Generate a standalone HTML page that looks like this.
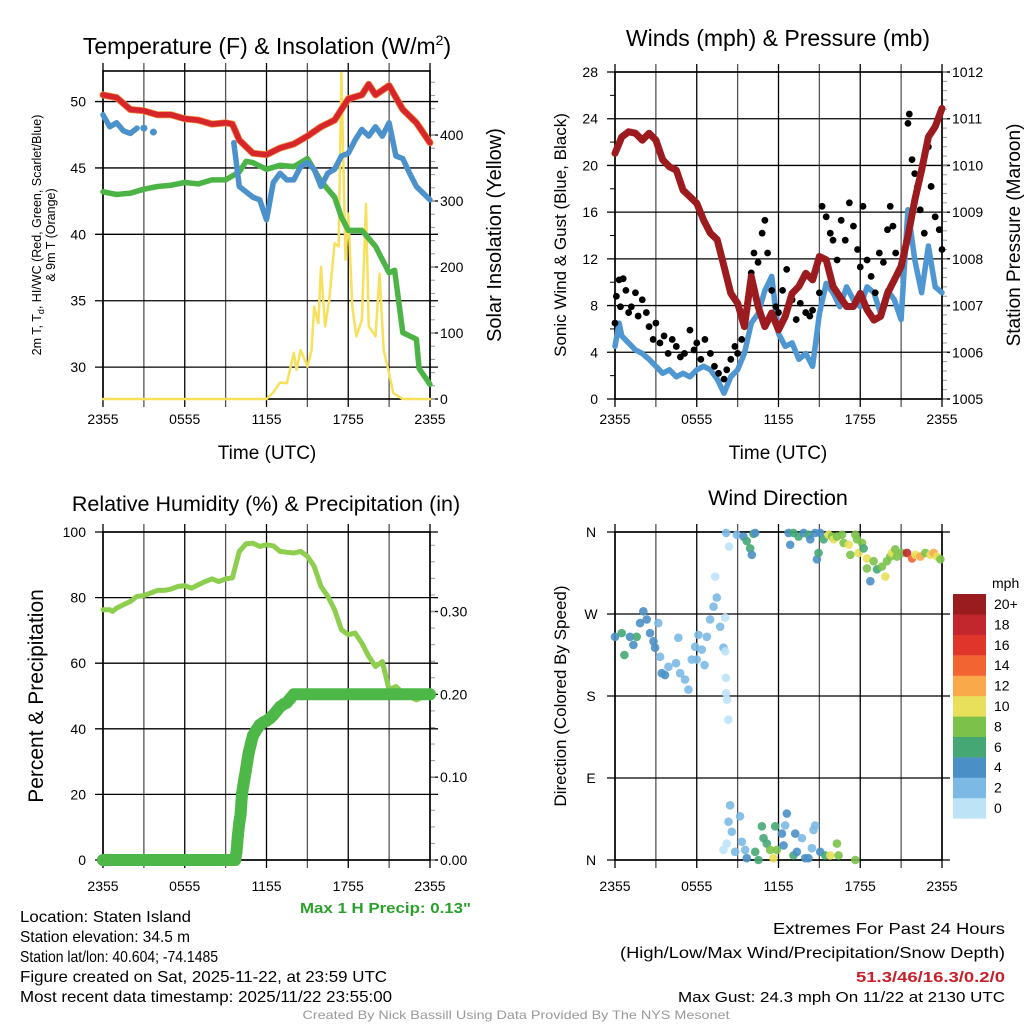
<!DOCTYPE html>
<html><head><meta charset="utf-8"><style>
html,body{margin:0;padding:0;background:#fff;}
svg{display:block;font-family:"Liberation Sans",sans-serif;}
</style></head><body>
<svg id="chart" xmlns="http://www.w3.org/2000/svg" width="1024" height="1024" viewBox="0 0 1024 1024">
<rect x="0" y="0" width="1024" height="1024" fill="#fff"/>
</svg>
<script>
// ---- Panel 1 data: temperature / insolation ----
const tempT = [0,1,2,3,4,5,6,7,8,9,9.5,10,11,12,13,14,15,16,17,17.5,18,19,19.5,20,21,22,23,24];
const tempV = [50.5,50.3,49.4,49.3,49.0,49.0,48.7,48.6,48.3,48.4,48.3,47.1,46.1,46.0,46.5,46.8,47.4,48.1,48.6,49.4,50.2,50.5,51.3,50.5,51.2,49.4,48.4,46.9];
const dewT = [0,1,2,3,4,5,6,7,8,9,10,10.5,11,12,13,14,15,16,17,17.5,18,19,20,21,21.4,22,23,23.2,24];
const dewV = [43.2,43.0,43.1,43.4,43.6,43.7,43.9,43.8,44.1,44.1,44.7,45.5,45.4,44.9,45.2,45.1,45.7,44.0,42.8,41.3,40.3,40.3,39.1,37.1,37.3,32.6,32.1,29.9,28.7];
const hiT = [0,0.5,1,1.5,2,2.5,3,3.7,9.6,10,11,11.5,12,12.5,13,13.5,14,14.5,15,15.5,16,16.5,17,17.5,18,18.5,19,19.5,20,20.5,21,21.5,22,22.5,23,23.5,24];
const hiV = [49.0,48.1,48.4,47.8,47.6,48.0,null,null,46.9,43.6,42.8,42.6,41.1,43.9,44.6,44.1,44.1,45.1,45.4,44.9,43.6,44.6,44.9,45.9,46.1,47.1,47.9,47.4,48.1,47.4,48.4,45.9,45.7,44.6,43.6,43.1,42.6];
const hiDotT = [3.0,3.7];
const hiDotV = [48.0,47.7];
const solT = [0,12,12.5,13,13.5,14,14.2,14.5,15,15.3,15.5,15.8,16,16.3,16.6,17,17.3,17.5,17.8,18,18.3,18.6,19,19.3,19.5,20,20.3,20.6,21,21.3,22,24];
const solV = [0,0,10,25,24,70,44,74,49,74,140,115,200,110,150,236,231,494,211,281,140,95,120,296,110,95,190,74,39,9,0,0];
// ---- Panel 2 data: winds / pressure ----
const presT = [0,0.5,1,1.5,2,2.5,3,3.5,4,4.5,5,5.5,6,6.5,7,7.5,8,8.5,9,9.5,10,10.5,11,11.5,12,12.5,13,13.5,14,14.5,15,15.5,16,16.5,17,17.5,18,18.5,19,19.5,20,20.5,21,21.5,22,22.5,23,23.5,24];
const presV = [1010.26,1010.61,1010.72,1010.69,1010.54,1010.69,1010.54,1010.12,1009.97,1009.90,1009.47,1009.33,1009.19,1008.83,1008.55,1008.41,1007.84,1007.26,1007.05,1006.55,1007.62,1006.98,1006.55,1006.84,1006.48,1006.77,1007.26,1007.41,1007.69,1007.55,1008.05,1007.98,1007.41,1007.19,1006.98,1006.98,1007.26,1006.91,1006.69,1006.77,1007.26,1007.55,1007.84,1008.48,1009.26,1009.90,1010.61,1010.83,1011.22];
const windT = [0,0.3,0.5,1,1.5,2,2.5,3,3.5,4,4.5,5,5.5,6,6.5,7,7.5,8,8.5,9,9.5,10,10.5,11,11.5,12,12.5,13,13.5,14,14.5,15,15.5,16,16.5,17,17.5,18,18.5,19,19.5,20,20.5,21,21.5,22,22.5,23,23.5,24];
const windV = [4.5,6.5,5.4,4.8,4.2,3.9,3.4,2.8,2.2,2.5,1.9,2.2,1.9,2.5,2.8,2.5,1.7,0.5,1.9,2.5,3.9,6.5,7.3,9.3,10.5,5.6,4.5,4.8,3.4,3.9,2.8,7.3,9.9,9.1,7.9,9.6,8.5,7.9,9.6,9.1,7.3,9.3,8.5,6.8,16.2,11.9,9.1,13.1,9.6,9.1];
const gustT = [0,0.1,0.3,0.4,0.6,0.8,1,1.2,1.5,1.7,2,2.3,2.5,2.8,3,3.3,3.6,3.9,4.2,4.5,4.8,5.1,5.5,5.8,6,6.3,6.6,7,7.3,7.6,8,8.2,8.5,8.8,9,9.3,9.6,10,10.2,10.5,10.8,11,11.2,11.5,11.8,12,12.3,12.6,13,13.3,13.6,14,14.3,14.5,15,15.2,15.5,15.8,16,16.3,16.6,16.9,17.2,17.5,17.8,18,18.2,18.5,18.8,19.1,19.4,19.7,20,20.2,20.4,20.6,20.9,21.2,21.5,21.6,21.8,22,22.2,22.4,22.7,23,23.2,23.5,23.8,24];
const gustV = [6.5,8.8,10.2,7.9,10.3,9.3,7.4,7.9,9.1,7.1,8.5,7.4,6.2,5.1,6.5,4.8,5.4,3.9,5.1,4.5,3.6,3.9,5.9,4.2,4.8,3.4,5.1,3.9,2.8,2.2,1.7,2.5,3.4,4.5,3.9,5.1,7.4,10.8,12.5,11.7,14.2,15.3,12.5,9.3,7.9,7.4,9.3,11.1,8.5,6.8,8.2,7.4,7.1,7.6,9.1,16.5,15.6,14.2,13.6,11.9,15.3,13.6,16.8,14.8,12.8,11.3,16.5,11.9,10.5,9.1,12.5,11.7,14.5,16.5,14.8,12.5,11.1,12.5,23.6,24.4,20.5,19.3,18.2,16.2,14.2,21.6,18.2,15.6,14.5,12.8];
// ---- Panel 3 data: RH / precip ----
const rhT = [0,0.5,0.7,1,1.5,2,2.5,3,3.5,4,4.5,5,5.5,6,6.5,7,7.5,8,8.5,9,9.5,10,10.5,11,11.5,12,12.5,13,13.5,14,14.5,15,15.5,16,16.5,17,17.5,18,18.5,19,19.5,20,20.5,21,21.5,22,23,23.5,24];
const rhV = [76.3,76.3,75.8,76.8,77.8,78.8,80.4,80.6,81.4,82.2,82.2,82.6,83.4,83.6,82.9,83.9,84.9,85.7,84.9,85.7,86.0,94.1,96.4,96.6,95.6,96.1,95.8,94.1,93.8,93.6,94.1,92.6,89.5,83.4,80.4,76.3,70.2,68.7,69.2,66.1,62.1,59.0,60.5,51.9,52.9,50.9,48.8,49.8,50.4];
const prT = [0,9.7,9.8,9.9,10,10.1,10.2,10.3,10.4,10.5,10.6,10.7,10.85,11,11.25,11.5,11.75,12,12.25,12.5,12.75,13,13.25,13.5,13.75,14,24];
const prV = [0,0,0.01,0.03,0.045,0.055,0.08,0.09,0.10,0.11,0.12,0.13,0.14,0.15,0.157,0.163,0.166,0.168,0.171,0.175,0.18,0.185,0.188,0.19,0.195,0.2,0.2];
// ---- Panel 4 data: wind direction ----
const dirT = [0,0.49,0.69,1.1,1.35,1.59,1.84,2.08,2.33,2.57,2.82,2.94,3.18,3.31,3.43,3.67,3.92,4.48,4.65,4.78,5.14,5.39,5.63,5.88,6.0,6.12,6.37,6.57,6.74,6.98,7.23,7.47,7.35,7.72,7.96,8.09,8.14,8.16,8.23,8.31,8.37,8.08,8.16,8.94,9.43,9.67,9.92,10.04,10.16,10.29,
 8.45,8.33,8.57,8.2,7.96,8.82,9.18,9.31,9.55,9.67,10.29,10.53,10.78,10.9,11.14,11.39,11.63,11.76,11.88,12.25,12.37,12.49,12.61,13.1,13.23,13.35,13.72,13.96,14.2,14.45,14.57,14.69,15.06,15.43,15.8,16.29,16.41,17.64,
 12.74,12.86,13.1,13.47,13.84,14.2,14.33,14.69,14.82,14.94,15.06,15.31,15.68,15.92,16.05,16.29,16.66,16.78,17.15,17.27,17.64,17.76,17.88,18.13,18.25,18.49,18.49,18.74,18.98,19.23,19.59,19.84,19.96,20.21,20.33,20.57,20.7,21.06,21.43,21.8,22.05,22.41,22.78,23.15,23.39,23.64,23.88];
const dirD = [245,249,225,245,236,245,260,273,264,249,240,233,260,223,205,203,212,216,244,205,198,187,220,234,220,247,231,214,245,264,278,288,311,256,233,229,200,183,176,154,344,266,359,357,355,350,342,335,358,359,
 60,42,31,18,11,9,48,20,11,2,9,0,37,24,18,11,2,37,11,29,16,38,51,5,29,9,24,2,2,13,33,38,9,5,5,18,5,0,
 359,346,359,355,359,357,352,359,330,337,359,352,357,355,352,355,357,348,346,335,357,352,337,348,342,331,320,306,328,319,322,311,328,333,337,341,333,337,337,331,335,333,337,335,337,333,330];
const dirS = [4,6,6,4,4,6,4,4,4,4,4,4,2,2,4,4,2,2,2,2,2,2,2,2,2,2,2,2,2,2,2,2,1,2,2,1,1,1,1,1,1,1,2,2,4,6,6,4,6,4,
 2,2,2,1,1,2,2,2,2,4,6,6,6,6,6,8,10,6,8,4,4,2,4,6,4,4,2,4,4,2,2,2,4,6,10,8,8,8,
 4,4,6,6,4,6,4,4,4,6,4,6,10,8,10,8,8,8,10,8,8,8,10,8,6,10,8,4,8,6,8,10,8,8,10,8,8,8,18,14,10,12,8,10,12,10,8];
const binColors = ['#bde3f7','#7cb9e4','#4a90c6','#45a874','#7cc24a','#e8e05a','#f9a94a','#f26532','#e0352b','#c1272d','#9b1c1f'];
const binLabels = ['0','2','4','6','8','10','12','14','16','18','20+'];
const xTickLabels = ['2355','0555','1155','1755','2355'];
const xTickHours = [0,6,12,18,24];
const p1LeftTicks = [30,35,40,45,50];
const p1RightTicks = [0,100,200,300,400];
const p2LeftTicks = [0,4,8,12,16,20,24,28];
const p2RightTicks = [1005,1006,1007,1008,1009,1010,1011,1012];
const p3LeftTicks = [0,20,40,60,80,100];
const p3RightTicks = [0,0.1,0.2,0.3];
const p4Ticks = [0,90,180,270,360];
const p4TickLabels = ['N','E','S','W','N'];

const NS='http://www.w3.org/2000/svg';
const svg=document.getElementById('chart');
function mk(tag,attrs,name,parent){
  const el=document.createElementNS(NS,tag);
  for(const k in attrs) el.setAttribute(k,attrs[k]);
  
  
  (parent||svg).appendChild(el);
  return el;
}
function txt(x,y,s,size,name,opts){
  opts=opts||{};
  const a={x:x,y:y,'font-size':size,fill:opts.fill||'#000','text-anchor':opts.anchor||'start'};
  if(opts.weight) a['font-weight']=opts.weight;
  if(opts.len){a.textLength=opts.len;a.lengthAdjust='spacingAndGlyphs';}
  if(opts.rot!==undefined) a.transform='rotate('+opts.rot+' '+x+' '+y+')';
  const el=mk('text',a,name);
  el.textContent=s;
  return el;
}
const P1={x0:103,x1:430,y0:71,y1:399,lmin:27.6,lmax:52.3,rmin:0,rmax:497,lab:25};
const P2={x0:615,x1:942,y0:72,y1:399,lmin:0,lmax:28,rmin:1005,rmax:1012,lab:25};
const P3={x0:103,x1:430,y0:532,y1:860,lmin:0,lmax:100,rmin:0,rmax:0.396,lab:31};
const P4={x0:615,x1:942,y0:532,y1:860,lmin:0,lmax:360,lab:31};
function xs(p,t){return p.x0+(p.x1-p.x0)*t/24;}
function yl(p,v){return p.y1-(v-p.lmin)/(p.lmax-p.lmin)*(p.y1-p.y0);}
function yr(p,v){return p.y1-(v-p.rmin)/(p.rmax-p.rmin)*(p.y1-p.y0);}

function frame(p,key,leftTicks,leftFmt,rightTicks,rightFmt,leftMinor,rightMinor){
  const g=mk('g',{},key+'-axes');
  for(let h=0;h<=24;h+=3){
    const x=xs(p,h);
    mk('line',{x1:x,x2:x,y1:p.y0-8,y2:p.y1+8,stroke:(h%6===0)?'#000':'#555','stroke-width':1.3},key+'-vgrid',g);
  }
  leftTicks.forEach(v=>{
    const y=yl(p,v);
    mk('line',{x1:p.x0-8,x2:p.x1+8,y1:y,y2:y,stroke:'#000','stroke-width':1.3},key+'-hgrid',g);
    txt(p.x0-17,y+5,leftFmt(v),14,key+'-left-tick-label',{anchor:'end'});
  });
  if(leftMinor) leftMinor.forEach(v=>{const y=yl(p,v);mk('line',{x1:p.x0-5,x2:p.x0,y1:y,y2:y,stroke:'#000'},key+'-left-minor-tick',g);});
  if(rightTicks) rightTicks.forEach(v=>{
    const y=yr(p,v);
    mk('line',{x1:p.x1,x2:p.x1+8,y1:y,y2:y,stroke:'#000','stroke-width':1.3},key+'-right-tick',g);
    txt(p.x1+10,y+5,rightFmt(v),14,key+'-right-tick-label');
  });
  if(rightMinor) rightMinor.forEach(v=>{const y=yr(p,v);mk('line',{x1:p.x1,x2:p.x1+5,y1:y,y2:y,stroke:'#999'},key+'-right-minor-tick',g);});
  mk('rect',{x:p.x0,y:p.y0,width:p.x1-p.x0,height:p.y1-p.y0,fill:'none',stroke:'#000','stroke-width':1.6},key+'-frame',g);
  xTickHours.forEach((h,i)=>{txt(xs(p,h),p.y1+p.lab,xTickLabels[i],14,key+'-x-tick-label',{anchor:'middle'});});
}
function pathFrom(p,T,V,yf){
  let d='',pen=false;
  for(let i=0;i<T.length;i++){
    if(V[i]===null||V[i]===undefined){pen=false;continue;}
    d+=(pen?'L':'M')+xs(p,T[i]).toFixed(1)+','+yf(p,V[i]).toFixed(1);
    pen=true;
  }
  return d;
}
function line(p,T,V,yf,color,w,name){
  mk('path',{d:pathFrom(p,T,V,yf),fill:'none',stroke:color,'stroke-width':w,'stroke-linejoin':'round','stroke-linecap':'round'},name);
}
const minorRange=(a,b,s)=>{const r=[];for(let v=a;v<=b+1e-9;v+=s)r.push(+v.toFixed(4));return r;};

// ===== Panel 1 =====
frame(P1,'temp',p1LeftTicks,v=>String(v),p1RightTicks,v=>String(v),null,minorRange(0,480,20));
line(P1,solT,solV,yr,'#f7e05c',2.5,'insolation-line');
line(P1,dewT,dewV,yl,'#4cb447',5.5,'dewpoint-line');
line(P1,tempT,tempV,yl,'#f28c36',7,'9m-temp-line');
line(P1,tempT,tempV,yl,'#d7262b',5.5,'temperature-line');
line(P1,hiT,hiV,yl,'#4b92cc',5.5,'hi-wc-line');
hiDotT.forEach((t,i)=>{mk('circle',{cx:xs(P1,t),cy:yl(P1,hiDotV[i]),r:3.5,fill:'#4b92cc'},'hi-wc-point');});
{const t=mk('text',{x:267,y:54,'font-size':23,'text-anchor':'middle'},'temp-title');t.innerHTML='Temperature (F) &amp; Insolation (W/m<tspan dy="-9" font-size="14">2</tspan><tspan dy="9">)</tspan>';}
txt(267,459,'Time (UTC)',19,'temp-x-axis-title',{anchor:'middle'});
{const t=mk('text',{x:41,y:235,'font-size':12.5,'text-anchor':'middle',transform:'rotate(-90 41 235)'},'temp-left-axis-title');t.innerHTML='2m T, T<tspan dy="3" font-size="9">d</tspan><tspan dy="-3">, HI/WC (Red, Green, Scarlet/Blue)</tspan>';}
txt(55,235,'& 9m T (Orange)',12.5,'temp-left-axis-title-line2',{anchor:'middle',rot:-90});
txt(501,235,'Solar Insolation (Yellow)',20,'temp-right-axis-title',{anchor:'middle',rot:-90});

// ===== Panel 2 =====
frame(P2,'wind',p2LeftTicks,v=>String(v),p2RightTicks,v=>String(v),minorRange(2,26,4),minorRange(1005,1012,0.2));
line(P2,windT,windV,yl,'#4f97d2',5.5,'sonic-wind-line');
gustT.forEach((t,i)=>{mk('circle',{cx:xs(P2,t),cy:yl(P2,gustV[i]),r:3.4,fill:'#000'},'gust-point');});
line(P2,presT,presV,yr,'#9b1b1e',7,'pressure-line');
txt(778,46,'Winds (mph) & Pressure (mb)',23,'wind-title',{anchor:'middle'});
txt(778,459,'Time (UTC)',19,'wind-x-axis-title',{anchor:'middle'});
txt(566,235,'Sonic Wind & Gust (Blue, Black)',17,'wind-left-axis-title',{anchor:'middle',rot:-90});
txt(1020,235,'Station Pressure (Maroon)',19,'wind-right-axis-title',{anchor:'middle',rot:-90});

// ===== Panel 3 =====
frame(P3,'rh',p3LeftTicks,v=>String(v),p3RightTicks,v=>v.toFixed(2),null,minorRange(0,0.38,0.02));
line(P3,rhT,rhV,yl,'#8dce4e',5,'rh-line');
prT.forEach((t,i)=>{mk('circle',{cx:xs(P3,t),cy:yr(P3,prV[i]),r:6,fill:'#4db848'},'precip-point');});
line(P3,prT,prV,yr,'#4db848',12,'precip-line');
txt(266,511,'Relative Humidity (%) & Precipitation (in)',21.5,'rh-title',{anchor:'middle'});
txt(43,696,'Percent & Precipitation',21,'rh-left-axis-title',{anchor:'middle',rot:-90});
txt(471,913,'Max 1 H Precip: 0.13"',15,'max-precip-note',{anchor:'end',fill:'#2ca02c',weight:'bold',len:171});

// ===== Panel 4 =====
{
  const p=P4;const g=mk('g',{},'dir-axes');
  for(let h=0;h<=24;h+=3){const x=xs(p,h);mk('line',{x1:x,x2:x,y1:p.y0-8,y2:p.y1+8,stroke:(h%6===0)?'#000':'#555','stroke-width':1.3},'dir-vgrid',g);}
  p4Ticks.forEach((v,i)=>{const y=yl(p,v);mk('line',{x1:p.x0-8,x2:p.x1+8,y1:y,y2:y,stroke:'#000','stroke-width':1.3},'dir-hgrid',g);txt(591,y+5,p4TickLabels[i],14,'dir-tick-label',{anchor:'middle'});});
  mk('rect',{x:p.x0,y:p.y0,width:p.x1-p.x0,height:p.y1-p.y0,fill:'none',stroke:'#000','stroke-width':1.6},'dir-frame',g);
  xTickHours.forEach((h,i)=>{txt(xs(p,h),p.y1+p.lab,xTickLabels[i],14,'dir-x-tick-label',{anchor:'middle'});});
}
dirT.forEach((t,i)=>{
  const bin=Math.min(10,Math.floor(dirS[i]/2));
  mk('circle',{cx:xs(P4,t),cy:yl(P4,dirD[i]),r:4.3,fill:binColors[bin],'fill-opacity':0.9},'direction-point');
});
txt(778,505,'Wind Direction',21.5,'dir-title',{anchor:'middle'});
txt(566,696,'Direction (Colored By Speed)',17,'dir-left-axis-title',{anchor:'middle',rot:-90});
txt(992,588,'mph',14,'colorbar-title');
for(let i=0;i<11;i++){
  const y=594+(10-i)*20.4;
  mk('rect',{x:953,y:y,width:33,height:20.6,fill:binColors[i]},'colorbar-box-'+binLabels[i]);
  txt(994,y+15,binLabels[i],14,'colorbar-label');
}

// ===== Footer =====
const infoLines=['Location: Staten Island','Station elevation: 34.5 m','Station lat/lon: 40.604; -74.1485','Figure created on Sat, 2025-11-22, at 23:59 UTC','Most recent data timestamp: 2025/11/22 23:55:00'];
const infoLens=[171,170,198,367,372];
infoLines.forEach((s,i)=>txt(20,922+i*20,s,16,'station-info-line',{len:infoLens[i]}));
txt(1005,934,'Extremes For Past 24 Hours',16,'extremes-title',{anchor:'end',len:232});
txt(1005,958,'(High/Low/Max Wind/Precipitation/Snow Depth)',16,'extremes-legend',{anchor:'end',len:385});
txt(1005,982,'51.3/46/16.3/0.2/0',15,'extremes-values',{anchor:'end',fill:'#c8202a',weight:'bold',len:149});
txt(1005,1002,'Max Gust: 24.3 mph On 11/22 at 2130 UTC',15,'max-gust',{anchor:'end',len:327});
txt(516,1019,'Created By Nick Bassill Using Data Provided By The NYS Mesonet',12,'credit',{anchor:'middle',fill:'#999',len:427});
</script>
</body></html>
